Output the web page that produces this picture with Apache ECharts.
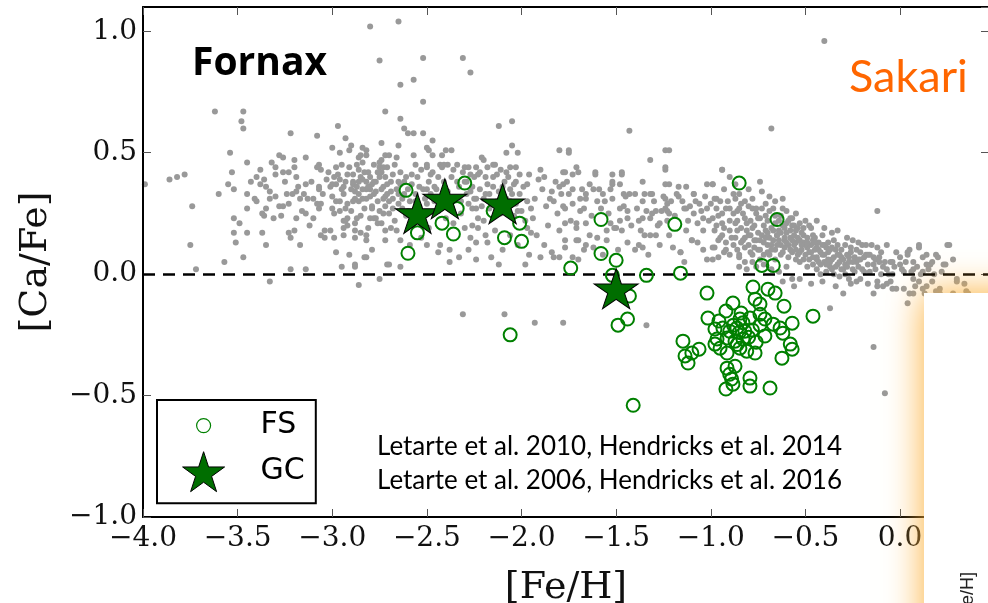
<!DOCTYPE html>
<html>
<head>
<meta charset="utf-8">
<script src="https://cdn.jsdelivr.net/npm/echarts@6/dist/echarts.min.js"></script>
<style>
  html, body { margin: 0; padding: 0; background: #fff; }
  #chart { width: 988px; height: 603px; }
</style>
</head>
<body>
<div id="chart"></div>
<script>
// Fornax field stars, [Fe/H] vs [Ca/Fe], split by metallicity range
const fieldMetalPoor = [
  [-3.62,0.67],[-3.47,0.67],[-3.48,0.63],[-3.47,0.60],[-2.97,0.61],[-3.22,0.58],[-3.08,0.57],[-2.93,0.56],[-2.90,0.53],[-2.74,0.54],
  [-2.72,0.67],[-3.54,0.50],[-3.28,0.49],[-3.14,0.48],[-3.07,0.45],[-3.00,0.52],[-2.96,0.50],[-2.86,0.48],[-2.84,0.46],[-2.82,0.51],
  [-3.45,0.46],[-3.53,0.42],[-3.55,0.37],[-3.52,0.35],[-3.60,0.33],[-3.74,0.28],[-3.75,0.12],[-3.72,0.02],[-3.57,0.05],[-3.47,0.07],
  [-3.99,0.37],[-3.86,0.39],[-3.82,0.40],[-3.78,0.41],[-3.38,0.43],[-3.40,0.40],[-3.36,0.39],[-3.32,0.46],[-3.30,0.44],[-3.30,0.41],
  [-3.38,0.37],[-3.35,0.36],[-3.45,0.33],[-3.41,0.31],[-3.33,0.31],[-3.30,0.32],[-3.28,0.28],[-3.35,0.27],[-3.45,0.27],[-3.37,0.25],
  [-3.36,0.24],[-3.52,0.23],[-3.49,0.21],[-3.52,0.17],[-3.45,0.17],[-3.51,0.13],[-3.37,0.17],[-3.35,0.12],[-3.31,0.23],[-3.26,0.48],
  [-3.26,0.42],[-3.23,0.42],[-3.20,0.47],[-3.20,0.44],[-3.19,0.40],[-3.24,0.33],[-3.21,0.33],[-3.19,0.34],[-3.23,0.29],[-3.26,0.28],
  [-3.19,0.23],[-3.20,0.18],[-3.23,0.17],[-3.22,0.15],[-3.17,0.12],[-3.22,0.02],[-3.14,0.02],[-3.14,0.37],[-3.15,0.33],[-3.13,0.31],
  [-3.17,0.31],[-3.14,0.25],[-3.10,0.23],[-3.08,0.44],[-3.06,0.43],[-3.07,0.36],[-3.07,0.35],[-3.10,0.31],[-3.06,0.29],[-3.07,0.27],
  [-3.04,0.18],[-3.06,0.16],[-3.01,0.18],[-2.99,0.15],[-3.04,0.15],[-2.98,0.09],[-2.91,0.08],[-2.95,0.03],[-2.88,0.04],[-2.82,0.07],
  [-3.01,0.36],[-3.00,0.32],[-3.00,0.27],[-2.98,0.37],[-2.96,0.30],[-2.95,0.35],[-2.93,0.27],[-2.92,0.23],[-2.94,0.22],[-2.92,0.20],
  [-2.89,0.38],[-2.88,0.34],[-2.85,0.40],[-2.86,0.30],[-2.85,0.24],[-2.88,0.18],[-2.82,0.38],[-2.82,0.31],[-2.80,0.35],[-2.79,0.37],
  [-2.79,0.27],[-2.77,0.23],[-2.76,0.21],[-2.75,0.44],[-2.72,0.49],[-2.75,0.46],[-2.72,0.40],[-2.72,0.32],[-2.73,0.25],[-2.72,0.18],
  [-2.82,0.16],[-2.79,0.10],[-2.71,0.04],[-2.75,-0.02],[-3.33,-0.03],[-2.86,-0.045],
  [-2.80,1.02],[-2.65,1.04],[-2.75,0.88],[-2.52,0.89],[-2.64,0.78],[-2.57,0.80],[-2.52,0.71],[-2.64,0.64],[-2.62,0.60],
  [-2.65,0.53],[-2.60,0.58],[-2.57,0.58],[-2.52,0.58],[-2.84,0.52],[-2.82,0.49],[-2.85,0.49],[-2.91,0.51],[-2.70,0.49],[-2.74,0.47],
  [-2.66,0.48],[-2.57,0.49],[-2.56,0.45],[-3.00,0.37],[-2.94,0.36],[-2.89,0.37],[-2.86,0.33],[-2.82,0.35],[-2.78,0.38],[-2.75,0.40],
  [-2.71,0.37],[-2.65,0.38],[-2.98,0.30],[-2.92,0.29],[-2.88,0.31],[-2.84,0.31],[-2.79,0.28],[-2.73,0.31],[-2.68,0.27],[-2.65,0.29],
  [-2.99,0.25],[-2.93,0.22],[-2.87,0.23],[-2.80,0.23],[-2.74,0.21],[-2.69,0.19],[-2.64,0.14],[-2.94,0.16],[-2.88,0.15],[-2.82,0.14],
  [-2.72,0.14],[-2.83,0.07],[-2.88,0.03],[-2.70,0.04],[-2.64,0.03],
  [-2.97,0.41],[-2.95,0.45],[-2.93,0.38],[-2.91,0.44],[-2.89,0.41],[-2.87,0.36],[-2.86,0.43],[-2.84,0.39],[-2.83,0.27],[-2.81,0.42],
  [-2.80,0.32],[-2.78,0.45],[-2.77,0.34],[-2.76,0.30],[-2.74,0.42],[-2.73,0.36],[-2.71,0.44],[-2.70,0.30],[-2.69,0.34],[-2.68,0.41],
  [-2.67,0.22],[-2.66,0.35],[-2.64,0.42],[-2.63,0.31],[-2.62,0.38],[-2.61,0.24],[-2.96,0.26],[-2.94,0.19],[-2.90,0.26],[-2.88,0.21],
  [-2.85,0.17],[-2.81,0.19],[-2.78,0.23],[-2.75,0.26],[-2.70,0.25],[-2.66,0.18],[-2.99,0.40],[-3.03,0.39],[-3.05,0.33],[-3.08,0.29],
  [-3.11,0.38],[-3.12,0.20],[-3.16,0.26],[-3.18,0.36],[-3.25,0.38],[-3.27,0.24],[-3.33,0.34],[-3.40,0.30],[-3.43,0.38],[-2.56,0.30],
  [-2.54,0.36],[-2.58,0.41],[-2.60,0.26],[-2.62,0.33],[-2.57,0.21],[-2.53,0.15],[-2.59,0.12],
  [-3.02,0.42],[-2.98,0.44],[-2.96,0.39],[-2.94,0.33],[-2.92,0.41],[-2.90,0.35],[-2.89,0.30],[-2.87,0.45],[-2.86,0.38],[-2.84,0.35],
  [-2.83,0.42],[-2.81,0.36],[-2.80,0.40],[-2.78,0.33],[-2.77,0.38],[-2.76,0.42],[-2.74,0.35],[-2.73,0.44],[-2.72,0.28],[-2.71,0.33],
  [-2.69,0.38],[-2.68,0.31],[-2.67,0.45],[-2.65,0.33],[-2.64,0.37],[-2.63,0.27],[-2.61,0.40],[-2.60,0.35],[-2.59,0.30],[-2.58,0.37],
  [-2.56,0.33],[-2.55,0.40],[-2.54,0.28],[-2.53,0.43],[-2.52,0.35],[-2.51,0.31]
];

const fieldIntermediate = [
  [-2.31,0.89],[-2.27,0.83],[-2.05,0.63],[-2.12,0.61],[-2.47,0.55],[-2.50,0.52],[-2.49,0.51],[-2.50,0.45],[-2.47,0.49],[-2.42,0.49],
  [-2.40,0.51],[-2.37,0.51],[-2.43,0.45],[-2.39,0.45],[-2.34,0.45],[-2.28,0.44],[-2.24,0.44],[-2.21,0.48],[-2.20,0.47],[-2.15,0.45],
  [-2.14,0.45],[-2.05,0.53],[-2.08,0.50],[-2.02,0.50],[-2.06,0.44],[-1.96,0.41],[-1.90,0.43],[-1.88,0.40],[-1.80,0.51],[-1.75,0.50],
  [-1.71,0.44],[-1.70,0.42],[-1.78,0.42],[-1.61,0.41],[-1.52,0.41],
  [-2.50,0.44],[-2.48,0.41],[-2.50,0.35],[-2.46,0.36],[-2.50,0.29],[-2.49,0.19],[-2.50,0.12],[-2.43,0.12],[-2.38,0.10],[-2.33,0.07],
  [-2.28,0.10],[-2.24,0.13],[-2.16,0.07],[-2.30,0.38],[-2.27,0.41],[-2.23,0.41],[-2.18,0.37],[-2.19,0.33],[-2.24,0.31],[-2.26,0.27],
  [-2.23,0.23],[-2.26,0.20],[-2.19,0.16],[-2.07,0.40],[-2.03,0.38],[-2.06,0.35],[-2.01,0.33],[-1.97,0.30],[-1.95,0.27],[-1.94,0.23],
  [-1.97,0.19],[-1.92,0.16],[-1.96,0.08],[-1.90,0.07],[-1.98,0.04],[-1.89,0.35],[-1.84,0.34],[-1.80,0.36],[-1.83,0.30],[-1.78,0.28],
  [-1.81,0.25],[-1.74,0.22],[-1.80,0.18],[-1.71,0.19],[-1.77,0.14],[-1.83,0.07],[-1.67,0.10],[-1.70,0.06],[-1.68,0.35],[-1.66,0.31],
  [-1.62,0.35],[-1.60,0.30],[-1.56,0.30],[-1.53,0.35],[-1.52,0.38],[-1.55,0.18],[-1.60,0.15],[-1.62,0.11],[-1.70,0.14],[-1.80,0.07],
  [-1.75,0.51],[-1.73,0.41],[-1.77,0.42],[-1.78,0.37],[-1.75,0.33],[-1.77,0.27],[-1.73,0.29],[-1.69,0.26],[-1.66,0.33],[-1.66,0.21],
  [-1.77,0.21],[-1.71,0.21],[-1.77,0.11],[-1.71,0.14],[-1.66,0.12],[-1.61,0.42],[-1.59,0.35],[-1.52,0.37],[-1.52,0.31],[-1.55,0.14],
  [-1.51,0.19],
  [-2.31,-0.165],[-2.09,-0.165],[-1.93,-0.20],[-1.78,-0.20],
  [-2.48,0.33],[-2.46,0.30],[-2.44,0.26],[-2.41,0.38],[-2.39,0.34],[-2.37,0.40],[-2.35,0.31],[-2.33,0.36],[-2.31,0.42],[-2.29,0.33],
  [-2.28,0.29],[-2.26,0.36],[-2.25,0.31],[-2.22,0.35],[-2.21,0.28],[-2.19,0.40],[-2.17,0.33],[-2.16,0.29],[-2.15,0.36],[-2.13,0.41],
  [-2.12,0.34],[-2.11,0.25],[-2.09,0.38],[-2.08,0.31],[-2.07,0.27],[-2.05,0.33],[-2.04,0.24],[-2.03,0.29],[-2.01,0.41],[-2.00,0.26],
  [-1.99,0.36],[-1.98,0.22],[-2.42,0.44],[-2.40,0.23],[-2.36,0.21],[-2.32,0.25],[-2.30,0.19],[-2.27,0.15],[-2.23,0.19],[-2.20,0.22],
  [-2.18,0.13],[-2.14,0.18],[-2.10,0.10],[-2.06,0.16],[-2.02,0.12],[-2.44,0.09],[-2.38,0.05],[-2.24,0.06],[-2.12,0.04],[-1.97,0.37],
  [-1.93,0.31],[-1.91,0.39],[-1.87,0.28],[-1.85,0.31],[-1.82,0.38],[-1.79,0.33],[-1.76,0.38],[-1.73,0.35],[-1.69,0.31],[-1.67,0.27],
  [-1.64,0.37],[-1.63,0.24],[-1.58,0.27],[-1.57,0.33],[-1.54,0.25],[-1.53,0.21],[-1.86,0.20],[-1.88,0.12],[-1.84,0.09],[-1.73,0.07],
  [-1.64,0.16],[-1.57,0.08],[-1.95,0.17],
  [-2.49,0.38],[-2.47,0.42],[-2.45,0.35],[-2.44,0.40],[-2.43,0.30],[-2.41,0.45],[-2.40,0.34],[-2.38,0.28],[-2.36,0.43],[-2.34,0.38],
  [-2.32,0.30],[-2.30,0.44],[-2.29,0.38],[-2.27,0.34],[-2.25,0.40],[-2.24,0.27],[-2.22,0.42],[-2.20,0.31],[-2.18,0.44],[-2.17,0.27],
  [-2.15,0.40],[-2.13,0.30],[-2.11,0.43],[-2.10,0.36],[-2.08,0.42],[-2.06,0.30],[-2.04,0.37],[-2.03,0.44],[-2.02,0.26]
];

const fieldMetalRich = [
  [-1.43,0.59],[-1.47,0.41],[-1.32,0.47],[-1.36,0.38],[-1.48,0.37],[-1.46,0.33],[-1.43,0.33],[-1.39,0.27],[-1.36,0.30],[-1.32,0.33],
  [-1.29,0.26],[-1.36,0.23],[-1.44,0.23],[-1.50,0.19],[-1.37,0.18],[-1.32,0.16],[-1.36,0.11],[-1.47,0.42],[-1.45,0.32],[-1.48,0.27],
  [-1.44,0.26],[-1.47,0.18],[-1.49,0.10],[-1.35,0.33],[-1.31,0.33],[-1.31,0.25],[-1.32,0.23],[-1.27,0.21],[-1.29,0.16],[-1.35,0.16],
  [-1.38,0.12],[-1.24,0.51],[-1.24,0.44],[-1.24,0.37],[-1.22,0.37],[-1.17,0.36],[-1.13,0.36],[-1.25,0.32],[-1.23,0.29],[-1.23,0.26],
  [-1.17,0.32],[-1.14,0.27],[-1.09,0.33],[-1.09,0.25],[-1.12,0.22],[-1.13,0.18],[-1.10,0.14],[-1.07,0.21],[-1.04,0.18],[-1.02,0.27],
  [-1.02,0.37],[-0.99,0.37],[-0.98,0.31],[-0.97,0.27],[-0.95,0.30],[-0.94,0.43],[-0.99,0.23],[-0.97,0.20],[-0.94,0.21],[-0.96,0.14],
  [-1.04,0.10],[-0.99,0.11],[-0.93,0.09],[-0.99,0.06],[-1.16,0.09],[-1.22,0.16],[-1.23,0.22],
  [-0.90,0.27],[-0.88,0.25],[-0.86,0.22],[-0.84,0.19],[-0.90,0.18],[-0.87,0.15],[-0.83,0.14],[-0.81,0.21],[-0.78,0.19],[-0.79,0.16],
  [-0.76,0.14],[-0.82,0.11],[-0.85,0.07],[-0.78,0.08],[-0.75,0.10],[-0.78,0.05],[-0.84,0.29],[-0.78,0.27],[-0.76,0.25],[-0.82,0.30],
  [-0.88,0.33],
  [-0.40,0.96],[-0.68,0.60],[-1.22,0.51],[-1.24,0.43],[-0.94,0.43],[-0.74,0.38],[-0.12,0.26],[0.26,0.12],
  [-1.24,0.31],[-1.24,0.27],[-1.22,0.25],[-1.18,0.33],[-1.13,0.27],[-1.09,0.33],[-1.10,0.14],[-1.16,0.09],[-1.06,0.29],[-1.04,0.23],
  [-1.00,0.29],[-0.99,0.37],[-0.97,0.31],[-0.94,0.25],[-0.92,0.27],[-0.90,0.22],[-0.87,0.31],[-0.85,0.27],[-0.82,0.23],[-0.86,0.18],
  [-0.80,0.16],[-0.95,0.15],[-0.98,0.11],[-0.92,0.10],[-0.85,0.08],[-0.82,0.05],[-0.76,0.27],[-0.74,0.23],[-0.71,0.18],[-0.77,0.14],
  [-0.70,0.12],[-0.69,0.08],[-0.66,0.06],[-0.74,0.06],[-0.62,0.31],[-0.62,0.27],[-0.65,0.16],[-0.61,0.14],[-0.57,0.23],[-0.54,0.19],
  [-0.56,0.12],[-0.54,0.08],[-0.51,0.16],[-0.49,0.11],[-0.47,0.19],[-0.46,0.14],[-0.44,0.07],[-0.41,0.16],[-0.39,0.11],[-0.37,0.05],
  [-0.35,0.14],[-0.32,0.08],[-0.29,0.04],[-0.26,0.11],[-0.23,0.05],[-0.20,0.02],[-0.18,0.08],[-0.14,0.04],[-0.11,0.07],[-0.07,0.02],
  [-0.04,0.05],[0.00,0.04],[0.04,0.09],[0.07,0.02],[0.10,0.11],[0.14,0.04],[0.19,0.08],[0.23,0.04],[0.30,-0.02],
  [-0.26,-0.04],[-0.12,-0.05],[-0.04,-0.06],[0.02,-0.06],[0.07,-0.08],[0.12,-0.06],[0.21,-0.08],[0.35,-0.07],[-0.42,0.00],[-0.57,-0.02],
  [-0.21,-0.02],
  [-0.20,0.12],[-0.15,0.12],[0.10,0.12],[0.25,0.12],[-0.17,0.08],[-0.14,0.07],[-0.11,0.05],[-0.05,0.05],[0.00,0.07],[0.04,0.08],
  [0.07,0.05],[0.12,0.07],[0.16,0.04],[0.20,0.07],[0.24,0.04],[-0.12,-0.03],[-0.07,-0.04],[-0.02,-0.06],[0.05,-0.08],[0.10,-0.03],
  [0.14,-0.05],[0.17,-0.03],[0.21,-0.06],[0.30,-0.03],[0.34,-0.04],[0.28,-0.08],[0.36,-0.08],[0.04,-0.12],[0.19,-0.07],[-0.10,0.00],
  [-0.04,0.00],[0.02,0.01],[0.07,-0.02],[0.12,0.01],[0.18,0.00],
  [-1.34,-0.21],[-0.37,-0.14],[-0.14,-0.30],[-0.08,-0.49],
  [-0.72,0.20],[-0.70,0.22],[-0.68,0.19],[-0.66,0.21],[-0.64,0.18],[-0.62,0.20],[-0.60,0.17],[-0.58,0.15],[-0.56,0.16],[-0.55,0.13],
  [-0.53,0.14],[-0.52,0.10],[-0.50,0.12],[-0.48,0.09],[-0.47,0.12],[-0.45,0.10],[-0.44,0.06],[-0.43,0.13],[-0.41,0.08],[-0.40,0.05],
  [-0.38,0.09],[-0.36,0.06],[-0.34,0.10],[-0.33,0.04],[-0.31,0.07],[-0.30,0.02],[-0.28,0.08],[-0.27,0.05],[-0.25,0.02],[-0.24,0.07],
  [-0.22,0.03],[-0.21,0.06],[-0.19,0.01],[-0.17,0.04],[-0.16,0.01],[-0.13,0.02],[-0.09,0.03],[-0.06,0.00],
  [-0.74,0.10],[-0.72,0.13],[-0.70,0.09],[-0.68,0.12],[-0.66,0.10],[-0.64,0.14],[-0.63,0.08],[-0.61,0.11],[-0.59,0.07],[-0.59,0.12],
  [-0.57,0.09],[-0.55,0.06],[-0.53,0.09],[-0.51,0.06],[-0.49,0.03],[-0.46,0.04],[-0.44,0.02],[-0.42,0.04],[-0.39,0.01],[-0.37,0.03],
  [-0.35,0.00],[-0.32,-0.01],[-0.29,0.00],[-0.27,-0.02],
  [-0.80,0.12],[-0.82,0.15],[-0.84,0.13],[-0.86,0.10],[-0.88,0.12],[-0.90,0.08],[-0.92,0.13],[-0.94,0.16],[-0.96,0.07],[-0.79,0.09],
  [-0.77,0.11],[-0.75,0.17],[-0.73,0.16],[-0.71,0.15],[-0.69,0.15],[-0.67,0.14],[-0.65,0.16],[-0.63,0.12],[-0.61,0.15],[-0.60,0.21],
  [-0.58,0.18],[-0.57,0.20],[-0.55,0.18],[-0.52,0.17],[-0.51,0.13],[-0.49,0.15],[-0.46,0.16],[-0.45,0.13],[-0.43,0.10],[-0.40,0.12],
  [-0.38,0.13],[-0.36,0.11],[-0.33,0.12],[-0.31,0.10],[-0.29,0.12],[-0.26,0.09],[-0.23,0.10],[-0.21,0.09],[-0.19,0.07],[-0.16,0.08],
  [-0.13,0.06],[-0.10,0.09],[-0.08,0.05],[-0.03,0.03],[0.01,0.02],[0.03,0.05],[0.06,0.01],[0.09,0.03],[0.11,0.00],[0.15,0.02],
  [0.17,0.05],[0.22,0.01],
  [-0.85,0.03],[-0.81,0.02],[-0.76,0.03],[-0.72,0.04],[-0.68,0.02],[-0.64,0.01],[-0.60,0.03],[-0.62,-0.03],[-0.53,-0.02],[-0.47,-0.04],
  [-0.41,-0.03],[-0.34,-0.05],[-0.23,-0.03],[-0.17,-0.04],[-0.09,-0.05],[-0.05,-0.03],[0.08,-0.05],[0.13,-0.08],[-0.14,-0.08],[-0.30,-0.08],
  [-0.56,-0.05],
  [-0.93,0.35],[-0.90,0.40],[-0.87,0.37],[-0.85,0.33],[-0.80,0.35],[-0.78,0.31],[-0.73,0.34],[-0.71,0.29],[-0.69,0.32],[-0.67,0.27],
  [-0.66,0.30],[-0.63,0.24],[-0.60,0.26],[-0.58,0.23],[-0.55,0.25],[-0.53,0.21],[-0.50,0.22],[-0.48,0.20],[-0.44,0.22],[-0.40,0.19],
  [-0.36,0.17],[-0.33,0.18],[-0.28,0.15],[-0.25,0.14],[-0.22,0.13],[-0.18,0.12],[-0.12,0.11],[-0.07,0.12],[-0.02,0.09],[0.05,0.10],
  [0.14,0.08],[0.28,0.06],
  [-1.48,0.22],[-1.46,0.28],[-1.42,0.20],[-1.40,0.33],[-1.38,0.22],[-1.34,0.26],[-1.30,0.30],[-1.28,0.20],[-1.26,0.26],[-1.21,0.30],
  [-1.19,0.24],[-1.15,0.30],[-1.11,0.28],[-1.08,0.30],[-1.05,0.26],[-1.03,0.32],[-1.01,0.22],[-1.44,0.13],[-1.40,0.10],[-1.33,0.08],
  [-1.27,0.12],[-1.20,0.11],[-1.14,0.05],[-1.07,0.13],[-1.02,0.06],
  [-0.98,0.18],[-0.96,0.24],[-0.93,0.19],[-0.91,0.30],[-0.89,0.15],[-0.87,0.21],[-0.86,0.26],[-0.83,0.25],[-0.81,0.18],[-0.80,0.28],
  [-0.79,0.22],[-0.77,0.20],[-0.75,0.23],[-0.74,0.14],[-0.73,0.27],[-0.72,0.08],[-0.71,0.24],[-0.70,0.17],[-0.69,0.26],[-0.68,0.10],
  [-0.67,0.18],[-0.66,0.24],[-0.65,0.12],[-0.64,0.22],[-0.63,0.17],[-0.62,0.09],[-0.61,0.19],[-0.60,0.13],[-0.59,0.22],[-0.58,0.10],
  [-0.57,0.14],[-0.56,0.20],[-0.55,0.10],[-0.54,0.15],[-0.53,0.05],[-0.52,0.12],[-0.51,0.19],[-0.50,0.08],[-0.49,0.13],[-0.48,0.06],
  [-0.47,0.09],[-0.46,0.07],[-0.45,0.15],[-0.44,0.11],[-0.43,0.05],[-0.42,0.09],[-0.41,0.12],[-0.40,0.08],[-0.39,0.04],[-0.38,0.06],
  [-0.37,0.10],[-0.36,0.02],[-0.35,0.07],[-0.34,0.03],[-0.33,0.08],[-0.32,0.05],[-0.31,0.02],[-0.30,0.06],[-0.28,0.03],[-0.27,0.07],
  [-0.25,0.05],[-0.24,0.01],[-0.22,0.06]
];

// Field stars (FS)
const fsStars = [
  [-2.61,0.345],[-2.30,0.375],[-2.34,0.27],[-2.55,0.17],[-2.42,0.21],[-2.36,0.165],[-2.60,0.086],[-2.15,0.26],[-2.01,0.21],[-2.09,0.15],
  [-2.00,0.135],[-1.58,0.225],[-1.58,0.085],[-1.50,0.057],[-1.74,0.025],[-1.52,-0.005],[-1.34,-0.005],[-1.43,-0.09],[-0.85,0.375],[-1.19,0.205],
  [-1.16,0.004],[-0.65,0.225],[-0.73,0.036],[-0.67,0.036],[-2.06,-0.25],[-1.49,-0.21],[-1.44,-0.185],[-1.41,-0.54],
  [-1.02,-0.078],[-0.777,-0.053],[-0.698,-0.062],[-0.66,-0.078],[-0.766,-0.103],[-0.74,-0.123],[-0.883,-0.119],[-0.613,-0.132],[-0.46,-0.173],[-1.015,-0.181],
  [-0.92,-0.152],[-0.957,-0.193],[-0.846,-0.185],[-0.793,-0.181],[-0.74,-0.165],[-0.714,-0.185],[-0.978,-0.226],[-0.936,-0.222],[-0.90,-0.235],[-0.862,-0.222],
  [-0.82,-0.235],[-0.967,-0.267],[-0.914,-0.263],[-0.872,-0.276],[-0.83,-0.267],[-0.951,-0.305],[-0.846,-0.305],[-0.978,-0.288],[-0.914,-0.325],[-0.81,-0.317],
  [-0.766,-0.325],[-0.671,-0.206],[-0.634,-0.222],[-0.57,-0.202],[-0.619,-0.243],[-0.714,-0.255],[-1.147,-0.276],[-1.136,-0.337],[-1.10,-0.325],[-1.062,-0.309],
  [-1.12,-0.366],[-0.58,-0.288],[-0.57,-0.309],[-0.624,-0.346],[-0.914,-0.387],[-0.872,-0.379],[-0.90,-0.412],[-0.89,-0.432],[-0.793,-0.428],[-0.793,-0.461],
  [-0.92,-0.473],[-0.883,-0.453],[-0.687,-0.469],
  [-0.85,-0.24],[-0.83,-0.20],[-0.80,-0.26],[-0.86,-0.29],[-0.88,-0.21],[-0.78,-0.23],[-0.76,-0.28],[-0.84,-0.16],[-0.74,-0.21]
];

// Globular clusters (GC)
const globularClusters = [[-2.55,0.25],[-2.405,0.31],[-2.10,0.29],[-1.50,-0.06]];

// Axis ranges and tick spacing
const feHRange = [-4.0, 0.47];
const caFeRange = [-1.0, 1.1];
const tickStep = 0.5;

const starPath = 'path://M100 0L122.45 69.1L195.1 69.1L136.33 111.8L158.8 180.9L100 138.2L41.2 180.9L63.67 111.8L4.9 69.1L77.55 69.1Z';
const fsLegendIcon = 'path://M0 0M42 40M28 20A7 7 0 1 1 14 20A7 7 0 1 1 28 20Z';

function tickText(v) {
  const r = Math.round(v / tickStep) * tickStep;
  if (Math.abs(v - r) > 1e-6) return '';
  return (r < -1e-9 ? '\u2212' : '') + Math.abs(r).toFixed(1);
}

const serif = 'DejaVu Serif';
const tickLabel = { fontFamily: serif, fontSize: 28, color: '#111' };
const spine = { show: true, onZero: false, lineStyle: { color: '#000', width: 2 } };
const tick = { show: true, inside: true, length: 8, lineStyle: { color: '#555', width: 1 } };

const chart = echarts.init(document.getElementById('chart'), null, { renderer: 'canvas' });
chart.setOption({
  animation: false,
  backgroundColor: '#fff',
  grid: { left: 143, top: 7, width: 846, height: 510, outerBoundsMode: 'none', containLabel: false },
  xAxis: [
    {
      type: 'value', min: feHRange[0], max: feHRange[1], interval: tickStep, position: 'bottom', z: 3,
      axisLine: spine, axisTick: tick, splitLine: { show: false },
      axisLabel: Object.assign({ margin: 8, formatter: tickText, showMaxLabel: false }, tickLabel),
      name: '[Fe/H]', nameLocation: 'middle', nameGap: 52,
      nameTextStyle: { fontFamily: serif, fontSize: 38, color: '#111' }
    },
    {
      type: 'value', min: feHRange[0], max: feHRange[1], interval: tickStep, position: 'top', z: 3,
      axisLine: spine, axisTick: tick, splitLine: { show: false }, axisLabel: { show: false }
    }
  ],
  yAxis: [
    {
      type: 'value', min: caFeRange[0], max: caFeRange[1], interval: tickStep, position: 'left', z: 3,
      axisLine: spine, axisTick: tick, splitLine: { show: false },
      axisLabel: Object.assign({ margin: 6, formatter: tickText, showMaxLabel: false }, tickLabel),
      name: '[Ca/Fe]', nameLocation: 'middle', nameGap: 88, nameRotate: 90,
      nameTextStyle: { fontFamily: serif, fontSize: 38, color: '#111' }
    },
    {
      type: 'value', min: caFeRange[0], max: caFeRange[1], interval: tickStep, position: 'right', z: 3,
      axisLine: spine, axisTick: tick, splitLine: { show: false }, axisLabel: { show: false }
    }
  ],
  legend: {
    left: 157, top: 400, orient: 'vertical',
    padding: [5, 11, 11, 25], itemGap: 5, itemWidth: 42, itemHeight: 40,
    backgroundColor: '#fff', borderColor: '#000', borderWidth: 2, borderRadius: 0,
    selectedMode: false,
    textStyle: { fontFamily: 'DejaVu Sans', fontSize: 30, color: '#000', padding: [0, 0, 0, 31] },
    data: [
      { name: 'FS', icon: fsLegendIcon, itemStyle: { borderWidth: 1.2 } },
      { name: 'GC', icon: starPath, itemStyle: { borderWidth: 1 } }
    ]
  },
  series: [
    {
      name: 'Field', type: 'scatter', xAxisIndex: 0, yAxisIndex: 0, z: 2,
      symbol: 'circle', symbolSize: 6,
      itemStyle: { color: '#999999', opacity: 1 },
      data: fieldMetalPoor.concat(fieldIntermediate, fieldMetalRich),
      markLine: {
        silent: true, symbol: 'none', z: 5, animation: false,
        label: { show: false },
        lineStyle: { color: '#000', type: [12, 8], width: 2.5 },
        emphasis: { disabled: true },
        data: [{ yAxis: 0 }]
      }
    },
    {
      name: 'FS', type: 'scatter', z: 6,
      symbol: 'circle', symbolSize: 13,
      itemStyle: { color: 'rgba(0,0,0,0)', borderColor: '#008000', borderWidth: 2, opacity: 1 },
      data: fsStars
    },
    {
      name: 'GC', type: 'scatter', z: 7,
      symbol: starPath, symbolSize: [44, 42], symbolKeepAspect: true,
      itemStyle: { color: '#006e00', borderColor: '#000', borderWidth: 1, opacity: 1 },
      data: globularClusters
    }
  ],
  graphic: [
    {
      type: 'text', z: 50, x: 192, y: 64,
      style: { text: 'Fornax', font: 'bold 39px "Open Sans"', fill: '#000', align: 'left', verticalAlign: 'middle' }
    },
    {
      type: 'text', z: 50, x: 849, y: 77.5,
      style: { text: 'Sakari', font: '45px Lato', fill: '#ff6600', align: 'left', verticalAlign: 'middle' }
    },
    {
      type: 'text', z: 50, x: 377, y: 446.6,
      style: { text: 'Letarte et al. 2010, Hendricks et al. 2014', font: '26px Lato', fill: '#000', align: 'left', verticalAlign: 'middle' }
    },
    {
      type: 'text', z: 50, x: 377, y: 480.6,
      style: { text: 'Letarte et al. 2006, Hendricks et al. 2016', font: '26px Lato', fill: '#000', align: 'left', verticalAlign: 'middle' }
    },
    {
      type: 'rect', z: 100,
      shape: { x: 924, y: 293, width: 140, height: 400 },
      style: { fill: '#fff', shadowBlur: 36, shadowColor: 'rgba(251,175,55,1)' }
    },
    {
      type: 'text', z: 101, x: 968, y: 572, rotation: Math.PI / 2,
      style: { text: '[Fe/H]', font: '18px "Liberation Sans"', fill: '#222', align: 'right', verticalAlign: 'middle' }
    }
  ]
});
</script>
</body>
</html>
